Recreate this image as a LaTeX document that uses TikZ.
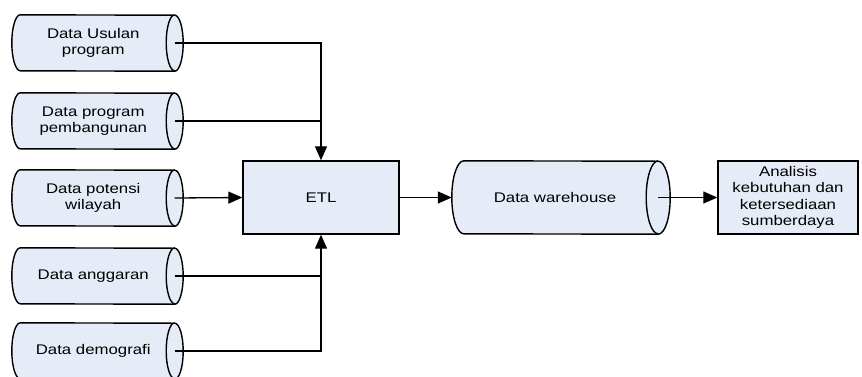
\documentclass[tikz,border=0pt]{standalone}
\usepackage{fontspec}
\setmainfont{Liberation Sans}[FakeStretch=1.2]
\usepackage{tikz}
\usetikzlibrary{arrows.meta,calc,backgrounds}
\definecolor{boxfill}{RGB}{230,236,247}
% drum outline round a named node: name, cap x radius, cap y radius
\newcommand{\drum}[3]{%
\draw[line width=1.4pt,fill=boxfill] (#1.north west)
  arc[start angle=90,end angle=270,x radius=#2,y radius=#3]
  -- ([xshift=#2]#1.south east)
  arc[start angle=-90,end angle=90,x radius=#2,y radius=#3] -- cycle;
\draw[line width=1.4pt] ([xshift=#2]#1.north east)
  arc[start angle=90,end angle=270,x radius=#2,y radius=#3];}

\begin{document}
\begin{tikzpicture}[x=1pt,y=1pt,
  font=\fontsize{14}{16.5}\selectfont,
  store/.style={rectangle,align=center,inner sep=0pt},
  proc/.style={rectangle,draw,line width=1.4pt,fill=boxfill,align=center,inner sep=0pt},
  flow/.style={line width=1.3pt,-{Triangle[length=14pt,width=12pt]}},
  link/.style={line width=1.3pt}]
\useasboundingbox (0,0) rectangle (862,-376);
% sumber data
\foreach \n/\y/\t in {s1/43/{Data Usulan\\program},s2/121/{Data program\\pembangunan},
  s3/198/{Data potensi\\wilayah},s4/276/{Data anggaran},s5/351/{Data demografi}}
\node[store,minimum width=145.5pt,minimum height=56pt] (\n) at (93.25,-\y) {\t};
\node[proc,minimum width=156pt,minimum height=73pt] (etl) at (321,-197.5) {ETL};
\node[store,minimum width=182pt,minimum height=73pt] (dw) at (555,-197.5) {Data warehouse};
\node[proc,minimum width=140pt,minimum height=73pt] (an) at (788,-197.5)
  {Analisis\\kebutuhan dan\\ketersediaan\\sumberdaya};
\begin{scope}[on background layer]
\foreach \n in {s1,s2,s3,s4,s5}
\drum{\n}{8.5}{28};
\drum{dw}{12}{36.5};
\end{scope}
% aliran
\draw[flow] ([xshift=8.5pt]s1.east) -| (etl.north);
\draw[link] ([xshift=8.5pt]s2.east) -- (s2.east -| etl.north);
\draw[flow] ([xshift=8.5pt]s3.east) -- (etl.west);
\draw[link] ([xshift=8.5pt]s4.east) -- (s4.east -| etl.south);
\draw[flow] ([xshift=8.5pt]s5.east) -| (etl.south);
\draw[flow] (etl.east) -- ([xshift=-12pt]dw.west);
\draw[flow] ([xshift=12pt]dw.east) -- (an.west);
\end{tikzpicture}
\end{document}
